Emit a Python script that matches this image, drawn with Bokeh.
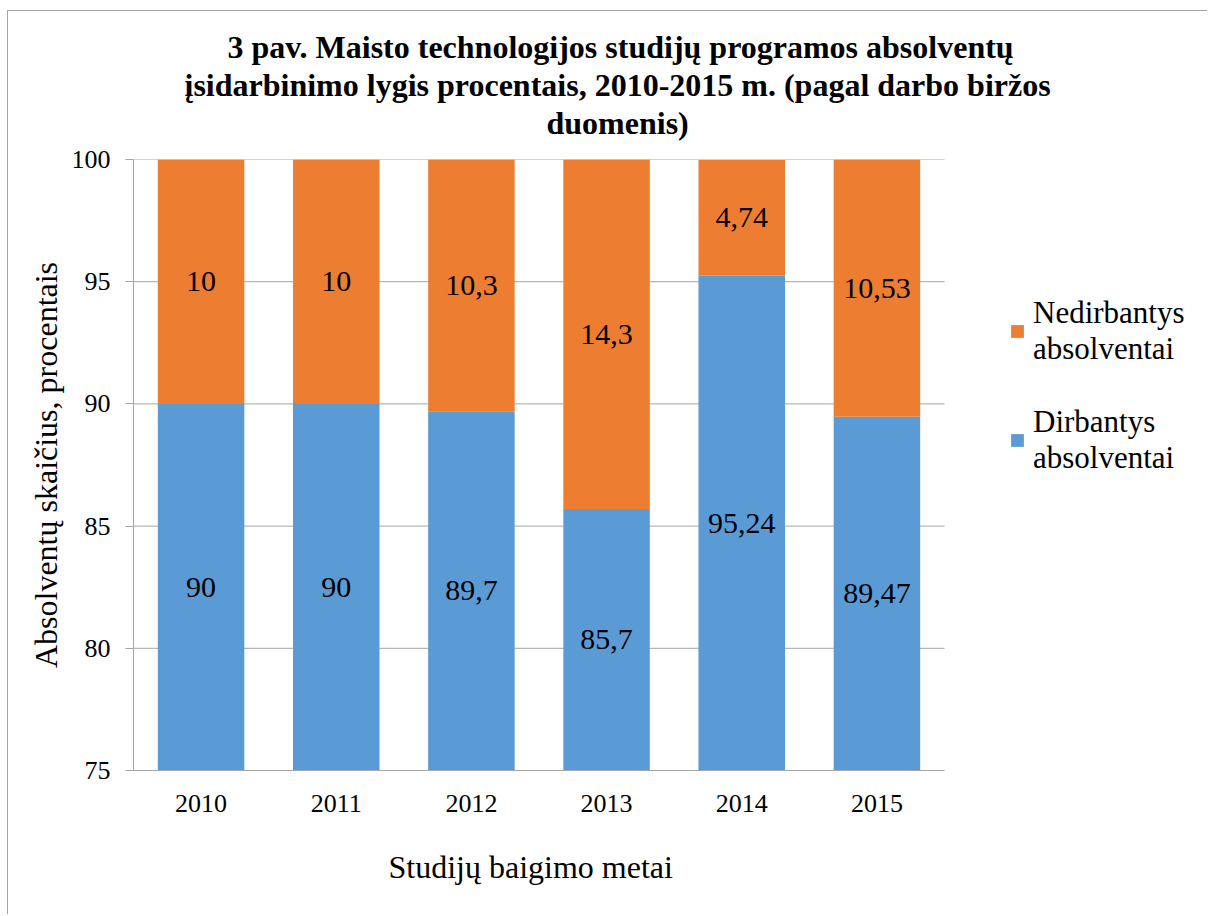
from bokeh.plotting import figure
from bokeh.models import (ColumnDataSource, LabelSet, Legend, LegendItem, Title,
                          FixedTicker, Range1d)
from bokeh.embed import file_html
from bokeh.resources import INLINE
from bokeh.core.properties import value

# ---- data ----
years = ["2010", "2011", "2012", "2013", "2014", "2015"]
dirbantys = [90, 90, 89.7, 85.7, 95.24, 89.47]
nedirbantys = [10, 10, 10.3, 14.3, 4.74, 10.53]
y_ticks = [75, 80, 85, 90, 95, 100]
series_labels = ["Dirbantys\nabsolventai", "Nedirbantys\nabsolventai"]
title_lines = [
    "3 pav. Maisto technologijos studijų programos absolventų",
    "įsidarbinimo lygis procentais, 2010-2015 m. (pagal darbo biržos",
    "duomenis)",
]
y_axis_title = "Absolventų skaičius, procentais"
x_axis_title = "Studijų baigimo metai"

# ---- style ----
FONT = "Liberation Serif"
BLUE = "#5B9BD5"
ORANGE = "#ED7D31"
GRAY = "#a6a6a6"
Y_MIN, Y_MAX = 75, 100
W, H = 1200, 904
ML, MR, MT, MB = 125, 5, 148, 145
PLOT_W = 811                      # width of the category area in px
n = len(years)
x_end = n * (W - ML - MR) / PLOT_W

def fmt(v):
    return f"{v:g}".replace(".", ",")

xs = [i + 0.5 for i in range(n)]

p = figure(x_range=Range1d(0, x_end), y_range=Range1d(Y_MIN, Y_MAX),
           width=W, height=H, output_backend="svg", toolbar_location=None,
           min_border_left=ML, min_border_right=MR, min_border_top=MT,
           min_border_bottom=MB)
p.styles = {"margin-left": "7px", "margin-top": "10px",
            "border-left": "1px solid #a6a6a6", "border-top": "1px solid #a6a6a6"}
p.outline_line_color = None
p.background_fill_color = "white"
p.border_fill_color = "white"
p.xgrid.visible = False
p.ygrid.visible = False

# horizontal gridlines across the category area only
p.segment(x0=[0] * len(y_ticks), x1=[n] * len(y_ticks), y0=y_ticks, y1=y_ticks,
          line_color=GRAY, line_width=1)

src = ColumnDataSource(dict(x=xs, dirb=dirbantys, nedirb=nedirbantys))
rs = p.vbar_stack(["dirb", "nedirb"], x="x", width=0.64, source=src,
                  color=[BLUE, ORANGE], line_color=None)

# data labels at centre of the visible segment of each bar part
lab_src = ColumnDataSource(dict(
    x=xs + xs,
    y=[(Y_MIN + d) / 2 for d in dirbantys] + [d + v / 2 for d, v in zip(dirbantys, nedirbantys)],
    txt=[fmt(d) for d in dirbantys] + [fmt(v) for v in nedirbantys],
))
p.add_layout(LabelSet(x="x", y="y", text="txt", source=lab_src,
                      text_align="center", text_baseline="middle",
                      text_font=value(FONT), text_font_size="30px", text_color="black"))

# axes
p.yaxis.ticker = FixedTicker(ticks=y_ticks)
p.yaxis.axis_label = y_axis_title
p.yaxis.major_tick_out = 8
p.yaxis.major_tick_in = 0
p.yaxis.minor_tick_line_color = None
p.yaxis.major_tick_line_color = GRAY
p.yaxis.major_label_standoff = 15
p.yaxis.axis_label_standoff = 5
p.yaxis.axis_label_text_font = FONT
p.yaxis.axis_label_text_font_size = "32px"
p.yaxis.axis_label_text_font_style = "normal"
p.yaxis.axis_label_text_color = "black"

p.xaxis.ticker = FixedTicker(ticks=xs)
p.xaxis.major_label_overrides = {x: y for x, y in zip(xs, years)}
p.xaxis.bounds = (0, n)
p.xaxis.major_tick_line_color = None
p.xaxis.minor_tick_line_color = None
p.xaxis.major_label_standoff = 18
for ax in (p.xaxis, p.yaxis):
    ax.axis_line_color = GRAY
    ax.major_label_text_font = FONT
    ax.major_label_text_font_size = "26px"
    ax.major_label_text_color = "black"

# x axis title (centred under the category area)
p.add_layout(Title(text=" ", standoff=11, text_font_size="1px"), "below")
p.add_layout(Title(text=x_axis_title, align="left", offset=255, standoff=40,
                   vertical_align="top", text_font=FONT, text_font_style="normal",
                   text_font_size="32px", text_color="black"), "below")

# legend, to the right of the bars
legend = Legend(items=[LegendItem(label=series_labels[1], renderers=[rs[1]]),
                       LegendItem(label=series_labels[0], renderers=[rs[0]])],
                location=(876, 294), padding=0, margin=0, spacing=37,
                glyph_width=16, glyph_height=16, label_standoff=8,
                label_text_font=FONT, label_text_font_size="31px",
                label_text_color="black",
                border_line_color=None, background_fill_alpha=0)
p.add_layout(legend, "center")

# title, three lines (spacer first, then bottom line upward)
p.add_layout(Title(text=" ", standoff=16, text_font_size="1px"), "above")
title_offsets = [94, 51, 413]
for line, off in reversed(list(zip(title_lines, title_offsets))):
    p.add_layout(Title(text=line, align="left", offset=off, standoff=0,
                       text_font=FONT, text_font_style="bold",
                       text_font_size="32px", text_color="black"), "above")

open("out.html", "w").write(file_html(p, INLINE))
